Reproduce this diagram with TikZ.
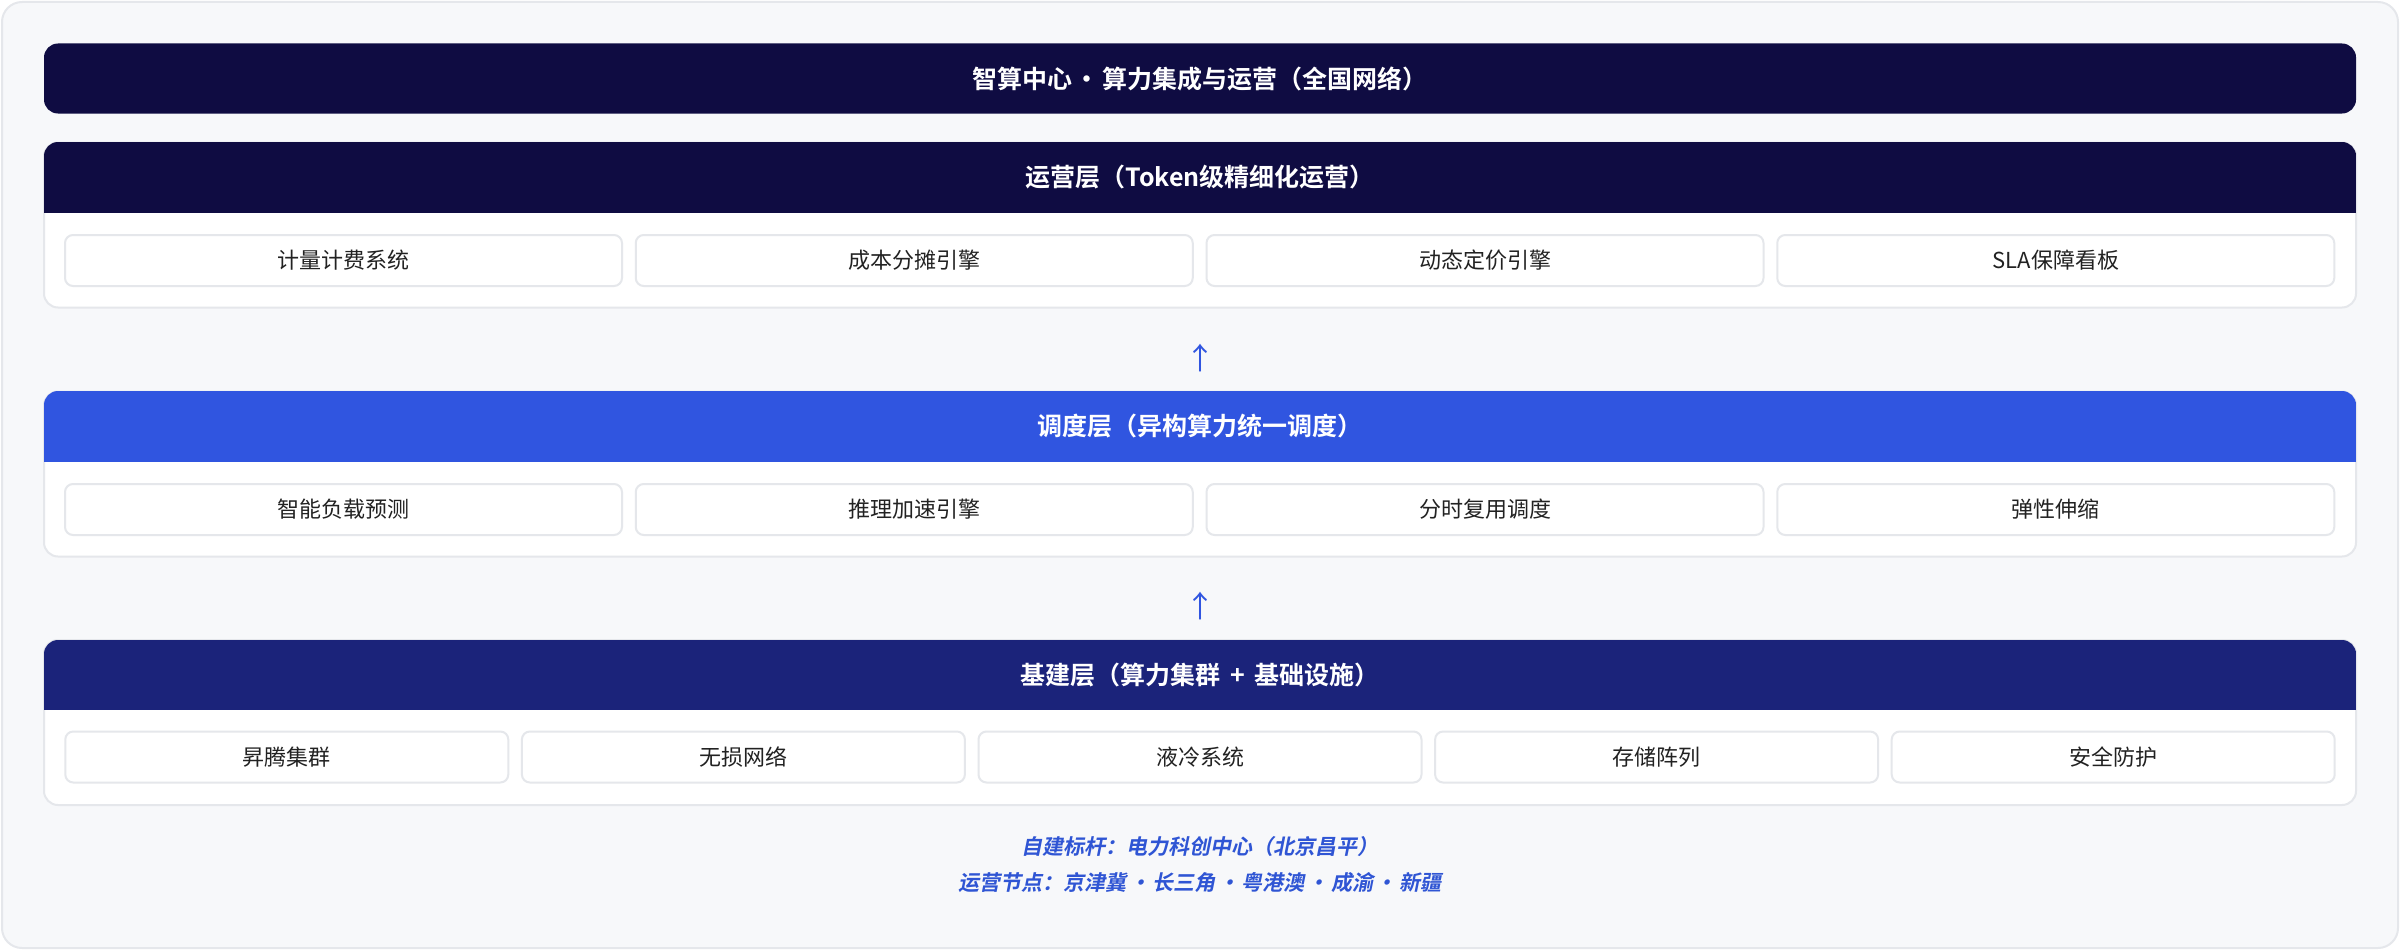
\documentclass[tikz,border=0pt]{standalone}
\usepackage{fontspec}
\setmainfont{Noto Sans CJK SC}[BoldFont={Noto Sans CJK SC Bold}, ItalicFont={Noto Sans CJK SC}, ItalicFeatures={FakeSlant=0.2}, BoldItalicFont={Noto Sans CJK SC Bold}, BoldItalicFeatures={FakeSlant=0.2}]
\definecolor{pagebg}{HTML}{F7F8FA}
\definecolor{lineg}{HTML}{E5E7EB}
\definecolor{navy}{HTML}{0F0C42}
\definecolor{blueh}{HTML}{3055E0}
\definecolor{baseh}{HTML}{1B237A}
\definecolor{itemtxt}{HTML}{222222}
\definecolor{foottxt}{HTML}{2F55D4}
\newcommand{\middot}{\kern0.12em·\kern0.12em}
\tikzset{
  outerbox/.style={draw=lineg, line width=2pt, fill=pagebg, rounded corners=20pt, minimum width=2396pt, minimum height=946pt, inner sep=0pt},
  titlebar/.style={fill=navy, rounded corners=14pt, minimum width=2312pt, minimum height=70pt, inner sep=0pt, text=white, font=\bfseries\fontsize{25}{29}\selectfont},
  cardbox/.style={draw=lineg, line width=2pt, fill=white, rounded corners=14pt, minimum width=2312pt, minimum height=165pt, inner sep=0pt},
  headtext/.style={text=white, font=\bfseries\fontsize{25}{29}\selectfont, inner sep=0pt},
  itembox/.style={draw=lineg, line width=2pt, fill=white, rounded corners=8pt, minimum height=51pt, inner sep=0pt, text=itemtxt, font=\fontsize{22}{26}\selectfont},
  item4/.style={itembox, minimum width=557pt},
  item5/.style={itembox, minimum width=443pt},
  uparrow/.style={text=blueh, font=\fontsize{30}{34}\selectfont, inner sep=0pt},
  foot/.style={text=foottxt, font=\bfseries\itshape\fontsize{21}{25}\selectfont, inner sep=0pt}
}
\begin{document}
\begin{tikzpicture}[x=1pt,y=-1pt]
\useasboundingbox (0,0) rectangle (2400,950);
\node[outerbox] (bg) at (1200,475) {};
\node[titlebar] (title) at (1200,78.5) {智算中心\middot 算力集成与运营（全国网络）};

% --- Operations layer
\node[cardbox] (ops) at (1200,225) {};
\begin{scope}
  \clip[rounded corners=14pt] (44,142) rectangle (2356,308);
  \fill[navy] (44,142) rectangle (2356,213);
\end{scope}
\node[headtext] (opsh) at (1200,177.5) {运营层（Token级精细化运营）};
\node[item4] (o1) at (343.5,260.5) {计量计费系统};
\node[item4] (o2) at (914.25,260.5) {成本分摊引擎};
\node[item4] (o3) at (1485,260.5) {动态定价引擎};
\node[item4] (o4) at (2055.75,260.5) {SLA保障看板};

\node[uparrow] (a1) at (1200,358) {↑};

% --- Scheduling layer
\node[cardbox] (sch) at (1200,474) {};
\begin{scope}
  \clip[rounded corners=14pt] (44,391) rectangle (2356,557);
  \fill[blueh] (44,391) rectangle (2356,462);
\end{scope}
\node[headtext] (schh) at (1200,426.5) {调度层（异构算力统一调度）};
\node[item4] (s1) at (343.5,509.5) {智能负载预测};
\node[item4] (s2) at (914.25,509.5) {推理加速引擎};
\node[item4] (s3) at (1485,509.5) {分时复用调度};
\node[item4] (s4) at (2055.75,509.5) {弹性伸缩};

\node[uparrow] (a2) at (1200,606) {↑};

% --- Base layer
\node[cardbox] (bas) at (1200,722.5) {};
\begin{scope}
  \clip[rounded corners=14pt] (44,640) rectangle (2356,805);
  \fill[baseh] (44,640) rectangle (2356,710);
\end{scope}
\node[headtext] (bash) at (1200,675) {基建层（算力集群\hspace{0.4em}+\hspace{0.4em}基础设施）};
\node[item5] (b1) at (286.8,757) {昇腾集群};
\node[item5] (b2) at (743.4,757) {无损网络};
\node[item5] (b3) at (1200,757) {液冷系统};
\node[item5] (b4) at (1656.6,757) {存储阵列};
\node[item5] (b5) at (2113.2,757) {安全防护};

% --- Footer
\node[foot] (f1) at (1200,846.5) {自建标杆：电力科创中心（北京昌平）};
\node[foot] (f2) at (1200,883) {运营节点：京津冀\middot 长三角\middot 粤港澳\middot 成渝\middot 新疆};
\end{tikzpicture}
\end{document}
